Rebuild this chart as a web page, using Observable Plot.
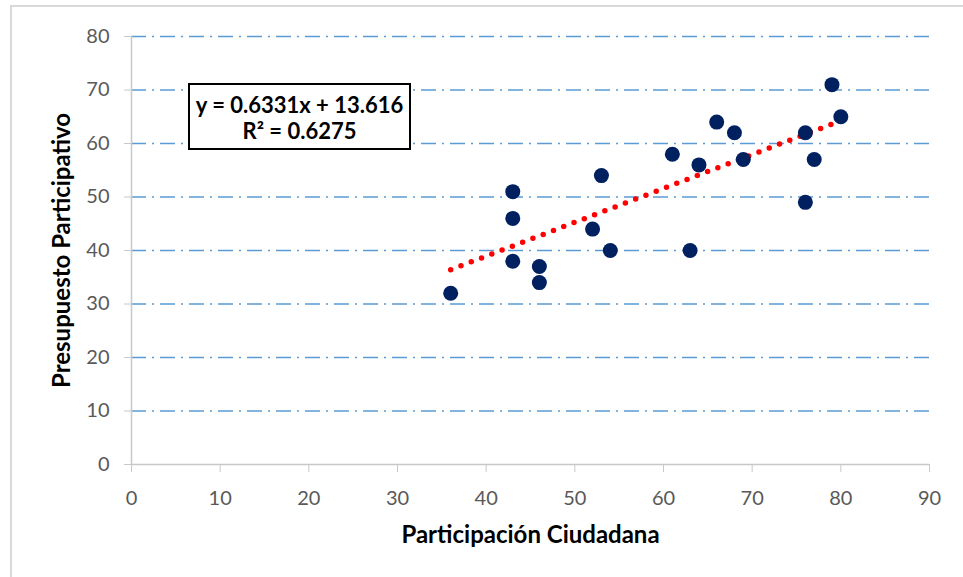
<!DOCTYPE html>
<html>
<head>
<meta charset="utf-8">
<script src="https://cdn.jsdelivr.net/npm/d3@7"></script>
<script src="https://cdn.jsdelivr.net/npm/@observablehq/plot@0.6"></script>
<style>
  html, body { margin: 0; padding: 0; background: #fff; }
  #wrap { position: relative; width: 963px; height: 577px; overflow: hidden; font-family: Lato, "Open Sans", sans-serif; }
  #frame { position: absolute; left: 10px; top: 5px; width: 1000px; height: 1000px; border-top: 2px solid #d9d9d9; border-left: 2px solid #d9d9d9; box-sizing: border-box; }
  #eq { position: absolute; left: 188px; top: 83px; width: 223px; height: 67px; box-sizing: border-box; border: 2px solid #000; background: #fff;
        font-family: Lato, sans-serif; font-weight: bold; font-size: 22px; color: #000; text-align: center; line-height: 26px; padding-top: 7px; white-space: nowrap; }
  svg { position: absolute; left: 0; top: 0; }
</style>
</head>
<body>
<div id="wrap">
  <div id="frame"></div>
</div>
<script>
// Data
const participacion = [36, 43, 43, 43, 46, 46, 52, 53, 54, 61, 63, 64, 66, 68, 69, 76, 76, 77, 79, 80];
const presupuesto   = [32, 51, 46, 38, 37, 34, 44, 54, 40, 58, 40, 56, 64, 62, 57, 62, 49, 57, 71, 65];
const slope = 0.6331;
const intercept = 13.616;
const r2 = 0.6275;
const xTicks = [0, 10, 20, 30, 40, 50, 60, 70, 80, 90];
const yTicks = [0, 10, 20, 30, 40, 50, 60, 70, 80];

const points = participacion.map((x, i) => ({x, y: presupuesto[i]}));
const [xmin, xmax] = d3.extent(participacion);
const trend = [xmin, xmax].map(x => ({x, y: slope * x + intercept}));

const axisGray = "#c8c8c8";
const labelGray = "#595959";

const chart = Plot.plot({
  width: 963,
  height: 577,
  marginLeft: 131,
  marginRight: 34,
  marginTop: 36,
  marginBottom: 113,
  style: {background: "transparent", fontFamily: "Lato, sans-serif"},
  x: {domain: [0, 90]},
  y: {domain: [0, 80]},
  marks: [
    Plot.ruleY(yTicks.filter(d => d > 0), {stroke: "#5b9bd5", strokeWidth: 1.5, strokeDasharray: "15,6,2,6"}),
    Plot.ruleY([0], {stroke: axisGray, strokeWidth: 1.5}),
    Plot.ruleX([0], {stroke: axisGray, strokeWidth: 1.5}),
    Plot.axisX({ticks: xTicks, tickSize: 8, tickPadding: 18, stroke: axisGray, fill: labelGray, fontSize: 20, label: null}),
    Plot.axisY({ticks: yTicks, tickSize: 7, tickPadding: 15, stroke: axisGray, fill: labelGray, fontSize: 20, label: null}),
    Plot.line(trend, {x: "x", y: "y", stroke: "#ff0000", strokeWidth: 5.5, strokeDasharray: "0,11", strokeLinecap: "round"}),
    Plot.dot(points, {x: "x", y: "y", r: 7.5, fill: "#002060", stroke: "none"}),
    Plot.text(["Participación Ciudadana"], {frameAnchor: "bottom", dy: 71, lineAnchor: "middle", textAnchor: "middle", fontSize: 24, fontWeight: "bold", fill: "#000"}),
    Plot.text(["Presupuesto Participativo"], {frameAnchor: "left", dx: -69, rotate: -90, textAnchor: "middle", lineAnchor: "middle", fontSize: 24, fontWeight: "bold", fill: "#000"})
  ]
});
const wrap = document.getElementById("wrap");
wrap.appendChild(chart);
const eq = document.createElement("div");
eq.id = "eq";
eq.innerHTML = `y = ${slope}x + ${intercept}<br>R² = ${r2}`;
wrap.appendChild(eq);
</script>
</body>
</html>
